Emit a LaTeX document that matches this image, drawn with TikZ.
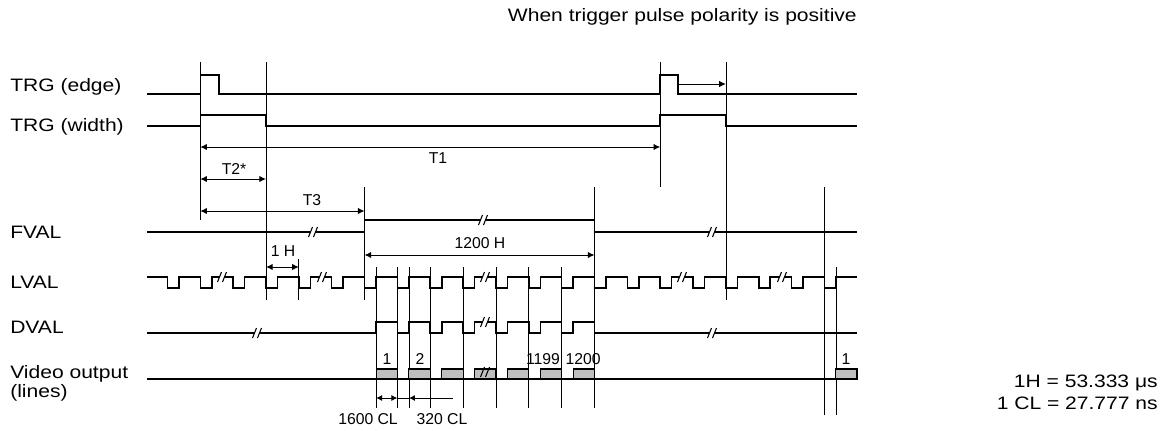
\documentclass[tikz,border=0pt]{standalone}
\usepackage{fontspec}
\usepackage{graphicx}
\setmainfont{Liberation Sans}
\usetikzlibrary{arrows.meta}
\newcommand\brkmark[2]{%
  \fill[white] (#1-4.5,#2+5) -- (#1-0.5,#2-5) -- (#1+4.5,#2-5) -- (#1+0.5,#2+5) -- cycle;
  \draw[line width=0.8pt] (#1-4.5,#2+5) -- (#1-0.5,#2-5);
  \draw[line width=0.8pt] (#1+0.5,#2+5) -- (#1+4.5,#2-5);}
\newcommand\slashmark[2]{%
  \draw[line width=0.8pt] (#1-4.5,#2+5) -- (#1-0.5,#2-5);
  \draw[line width=0.8pt] (#1+0.5,#2+5) -- (#1+4.5,#2-5);}
\newcommand\widetext[1]{\scalebox{1.17}[1]{#1}}
\begin{document}
\begin{tikzpicture}[x=0.75pt,y=-0.75pt,
  sig/.style={line width=1.15pt, line join=miter},
  vl/.style={line width=0.6pt},
  tip/.tip={Latex[length=5pt,width=4.8pt]},
  dim/.style={line width=0.75pt, tip-tip},
  lbl/.style={font=\fontsize{11.8}{13}\selectfont, inner sep=0pt},
  big/.style={font=\fontsize{13.5}{15}\selectfont, inner sep=0pt},
  sname/.style={big, anchor=west},
  vbox/.style={draw, fill=black!25, line width=0.8pt}]
\useasboundingbox (0,0) rectangle (1173,430);

% title and notes
\node[big, anchor=east] (title) at (857,17) {\widetext{When trigger pulse polarity is positive}};
\node[big, anchor=east] (noteH) at (1158,383) {\widetext{1H = 53.333 μs}};
\node[big, anchor=east] (noteCL) at (1158,403) {\widetext{1 CL = 27.777 ns}};

% signal names
\node[sname] (nEdge) at (10,87) {\widetext{TRG (edge)}};
\node[sname] (nWidth) at (10,127) {\widetext{TRG (width)}};
\node[sname] (nFval) at (10,232) {\widetext{FVAL}};
\node[sname] (nLval) at (10,282) {\widetext{LVAL}};
\node[sname] (nDval) at (10,327) {\widetext{DVAL}};
\node[big, anchor=base west] (nVid) at (10,378.5) {\widetext{Video output}};
\node[big, anchor=base west] (nVid2) at (10,397.5) {\widetext{(lines)}};

% vertical reference lines
\foreach \x/\a/\b in {200.3/62/220, 266/62/300, 298.85/259/300, 364.55/187/300,
   376.05/267/408, 397.4/267/408, 408.9/267/408, 430.25/267/408, 463.1/267/408,
   495.95/267/408, 528.8/267/408, 561.65/267/408, 594.5/187/408,
   660.2/62/187, 725.9/62/300, 824.45/187/415, 835.95/267/415}
  \draw[vl] (\x,\a) -- (\x,\b);

% TRG (edge)
\draw[sig] (147,94) -- (200.3,94) -- (200.3,75) -- (219,75) -- (219,94) -- (660.2,94)
  -- (660.2,75) -- (678,75) -- (678,94) -- (857,94);
% TRG (width)
\draw[sig] (147,126) -- (200.3,126) -- (200.3,115) -- (266,115) -- (266,126) -- (660.2,126)
  -- (660.2,115) -- (725.9,115) -- (725.9,126) -- (857,126);
% FVAL
\draw[sig] (147,232) -- (364.55,232) -- (364.55,220) -- (594.5,220) -- (594.5,232) -- (857,232);
% LVAL
\draw[sig] (147,277) foreach \k in {-3,...,17} { -- ({266+32.85*\k},277) -- ++(0,11) -- ++(11.5,0) -- ++(0,-11) } -- (857,277);
% DVAL
\draw[sig] (147,333) foreach \k in {3,...,9} { -- ({277.5+32.85*\k},333) -- ({277.5+32.85*\k},322) -- ({266+32.85*(\k+1)},322) -- ({266+32.85*(\k+1)},333) } -- (857,333);
% Video output
\draw[sig] (147,379) -- (857,379);
\foreach \k in {3,...,9}
  \draw[vbox] ({277.5+32.85*\k},369) rectangle ({266+32.85*(\k+1)},379);
\draw[vbox] (835.95,369) rectangle (857,379);

% break marks
\brkmark{222}{277}\brkmark{322}{277}\brkmark{485}{277}\brkmark{682}{277}\brkmark{782}{277}
\brkmark{313}{232}\brkmark{483}{220}\brkmark{712}{232}
\brkmark{257}{333}\brkmark{485}{322}\brkmark{712}{333}
\slashmark{485}{372}

% box labels
\node[lbl] (b1) at (387,359) {1};
\node[lbl] (b2) at (420,359) {2};
\node[lbl] (b1199) at (543,359) {1199};
\node[lbl] (b1200) at (583,359) {1200};
\node[lbl] (bn1) at (846,359) {1};

% dimension arrows
\coordinate (t1a) at (200.3,147); \coordinate (t1b) at (660.2,147);
\draw[dim] (t1a) -- (t1b);
\node[lbl] (lt1) at (438,158) {T1};
\coordinate (t2a) at (200.3,179); \coordinate (t2b) at (266,179);
\draw[dim] (t2a) -- (t2b);
\node[lbl] (lt2) at (234,169) {T2*};
\coordinate (t3a) at (200.3,211); \coordinate (t3b) at (364.55,211);
\draw[dim] (t3a) -- (t3b);
\node[lbl] (lt3) at (312,200) {T3};
\coordinate (hha) at (364.55,255); \coordinate (hhb) at (594.5,255);
\draw[dim] (hha) -- (hhb);
\node[lbl] (lhh) at (480,243) {1200 H};
\coordinate (ha) at (266,267); \coordinate (hb) at (298.85,267);
\draw[dim] (ha) -- (hb);
\node[lbl] (lh) at (283,251) {1 H};
\coordinate (ea) at (678,84); \coordinate (eb) at (725.9,84);
\draw[line width=0.75pt, -tip] (ea) -- (eb);
\coordinate (ca) at (376.05,398); \coordinate (cb) at (397.4,398);
\coordinate (cc) at (453,398); \coordinate (cd) at (408.9,398);
\draw[line width=0.75pt, {Latex[length=4.5pt,width=4.5pt]}-{Latex[length=4.5pt,width=4.5pt]}] (ca) -- (cb);
\draw[line width=0.75pt] (cb) -- (cd);
\draw[line width=0.75pt, -{Latex[length=4.5pt,width=4.5pt]}] (cc) -- (cd);
\node[lbl] (lc1) at (368,419) {1600 CL};
\node[lbl] (lc2) at (442,419) {320 CL};
\end{tikzpicture}
\end{document}
